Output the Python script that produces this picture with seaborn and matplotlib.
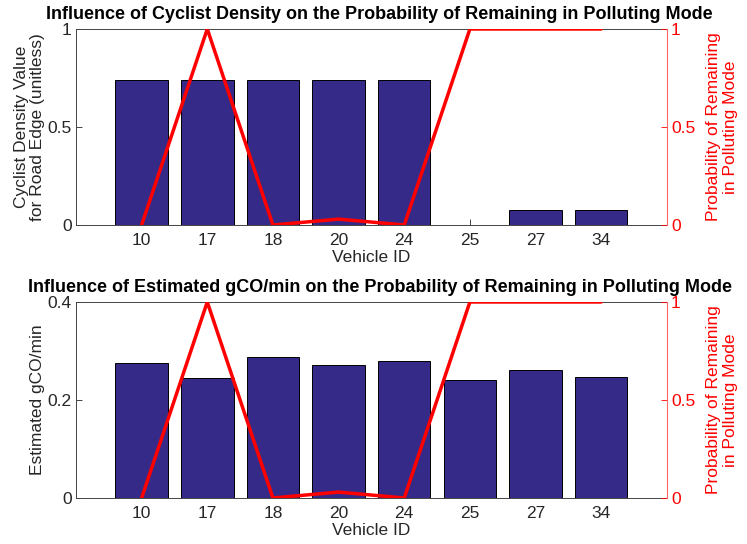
import matplotlib
matplotlib.use("Agg")
import matplotlib.pyplot as plt
import seaborn as sns
import numpy as np
import pandas as pd

vehicle_ids = ["10", "17", "18", "20", "24", "25", "27", "34"]
cyclist_density = [0.74, 0.74, 0.74, 0.74, 0.74, 0.0, 0.075, 0.075]
gco_per_min = [0.276, 0.245, 0.287, 0.272, 0.279, 0.240, 0.262, 0.247]
prob_remaining = [0.0, 1.0, 0.0, 0.03, 0.0, 1.0, 1.0, 1.0]

sns.set_theme(style="white")
plt.rcParams['font.family'] = ['Liberation Sans', 'DejaVu Sans']
plt.rcParams['axes.linewidth'] = 0.8

bar_color = "#352A87"
red = "#FF0000"
txt = "#262626"
fs = 12.5

fig = plt.figure(figsize=(7.47, 5.44), dpi=100)
ax_top = fig.add_axes([0.1017, 0.5864, 0.791, 0.3603])
ax_bot = fig.add_axes([0.1017, 0.0846, 0.791, 0.3603])

df = pd.DataFrame({"id": vehicle_ids, "density": cyclist_density,
                   "gco": gco_per_min, "prob": prob_remaining,
                   "pos": np.arange(len(vehicle_ids))})

panels = [
    (ax_top, "density", "Cyclist Density Value\nfor Road Edge (unitless)",
     "Influence of Cyclist Density on the Probability of Remaining in Polluting Mode",
     (0, 1), [0, 0.5, 1], ["0", "0.5", "1"]),
    (ax_bot, "gco", "Estimated gCO/min",
     "Influence of Estimated gCO/min on the Probability of Remaining in Polluting Mode",
     (0, 0.4), [0, 0.2, 0.4], ["0", "0.2", "0.4"]),
]

for ax, col, ylab, title, ylim, yt, ytl in panels:
    sns.barplot(data=df, x="id", y=col, order=vehicle_ids, color=bar_color,
                saturation=1, width=0.8, edgecolor="black", linewidth=0.7, ax=ax)
    ax.set_xlim(-1, len(vehicle_ids))
    ax.set_ylim(*ylim)
    ax.set_yticks(yt)
    ax.set_yticklabels(ytl)
    ax.set_xlabel("Vehicle ID", fontsize=fs, color=txt, labelpad=1)
    ax.set_ylabel(ylab, fontsize=fs, color=txt, labelpad=2, linespacing=1.1)
    ax.set_title(title, fontsize=13, fontweight="bold", color="black", pad=7,
                 x=0.514)
    ax.tick_params(axis="both", direction="in", length=4, width=0.6,
                   labelsize=fs, colors=txt)
    ax.tick_params(axis="y", left=True, pad=3)
    ax.tick_params(axis="x", bottom=True, pad=6)
    for s in ["left", "bottom", "top"]:
        ax.spines[s].set_color("#444444")
        ax.spines[s].set_linewidth(0.7)
    ax.spines["right"].set_visible(False)

    ax2 = ax.twinx()
    sns.lineplot(data=df, x="pos", y="prob", color=red, linewidth=2.5, ax=ax2)
    ax2.set_ylim(0, 1)
    ax2.set_xlim(-1, len(vehicle_ids))
    ax2.set_yticks([0, 0.5, 1])
    ax2.set_yticklabels(["0", "0.5", "1"])
    ax2.set_ylabel("Probability of Remaining\nin Polluting Mode", fontsize=fs,
                   color=red, labelpad=8, linespacing=1.1)
    ax2.tick_params(axis="y", direction="in", length=4, width=0.6,
                    labelsize=fs, colors=red, pad=3, right=True)
    ax2.spines["right"].set_color("#FF6666")
    ax2.spines["right"].set_linewidth(0.8)
    for s in ["left", "bottom", "top"]:
        ax2.spines[s].set_visible(False)
    ax2.grid(False)
    ax.grid(False)

fig.savefig("out.png", dpi=100)
